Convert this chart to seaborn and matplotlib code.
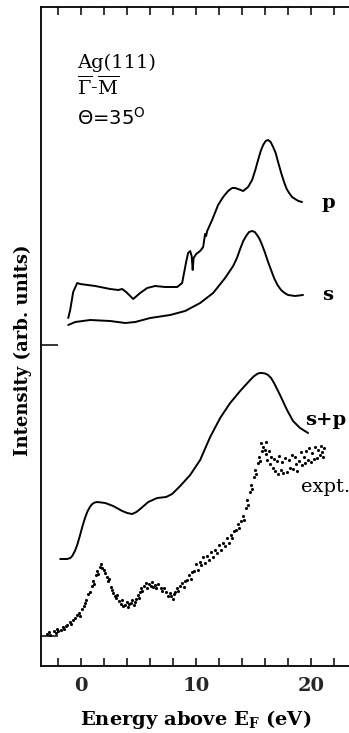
import numpy as np
import pandas as pd
import matplotlib
matplotlib.use("Agg")
import matplotlib.pyplot as plt
from matplotlib.ticker import FixedLocator
import seaborn as sns

# ---------------- data (energy in eV, intensity in arb. units) ----------------
p_E = [-1.13, -0.96, -0.70, -0.35, -0.09, 1.22, 2.52, 3.22, 3.57, 3.91, 4.52, 5.13,
       5.74, 6.43, 7.30, 8.35, 8.78, 9.13, 9.30, 9.48, 9.61, 9.70, 9.78, 10.0, 10.35,
       10.61, 10.78, 10.87, 10.96, 11.39, 11.91, 12.35, 12.78, 13.13, 13.40, 13.65, 14.09,
       14.52, 14.87, 15.15, 15.39, 15.62, 15.83, 16.05, 16.26, 16.48, 16.70, 16.92, 17.13,
       17.40, 17.65, 17.88, 18.09, 18.35, 18.61, 18.90, 19.22]
p_I = [34.8, 35.6, 37.4, 38.3, 38.2, 38.0, 37.7, 37.6, 37.7, 37.4, 36.7, 37.3,
       37.8, 38.0, 37.9, 37.9, 38.3, 40.4, 41.3, 41.5, 41.0, 39.6, 40.8, 41.2, 41.5,
       41.9, 43.2, 43.0, 43.5, 44.6, 46.1, 46.9, 47.5, 47.8, 47.8, 47.7, 47.5,
       47.9, 48.6, 49.6, 50.6, 51.5, 52.1, 52.5, 52.6, 52.4, 51.9, 51.3, 50.4,
       49.3, 48.4, 47.7, 47.3, 46.9, 46.7, 46.5, 46.4]

s_E = [-1.13, -0.52, 0.78, 2.52, 3.83, 4.70, 6.0, 7.74, 9.04, 10.35, 11.48, 12.52,
       13.22, 13.55, 13.83, 14.10, 14.35, 14.60, 14.87, 15.10, 15.30, 15.52, 15.74,
       16.00, 16.26, 16.52, 16.78, 17.08, 17.39, 17.70, 18.0, 18.61, 19.30]
s_I = [34.1, 34.4, 34.6, 34.5, 34.3, 34.4, 34.8, 35.1, 35.5, 36.3, 37.3, 38.8,
       40.0, 40.8, 41.7, 42.5, 43.0, 43.4, 43.5, 43.4, 43.1, 42.7, 42.1,
       41.3, 40.4, 39.6, 38.8, 38.1, 37.6, 37.3, 37.1, 37.0, 37.1]

sp_E = [-1.83, -1.22, -0.95, -0.78, -0.55, -0.35, -0.12, 0.09, 0.30, 0.52, 0.75, 0.96,
        1.18, 1.39, 2.09, 2.78, 3.57, 4.0, 4.43, 4.80, 5.13, 5.83, 6.61, 7.39, 7.91,
        8.61, 9.48, 10.35, 11.22, 12.09, 12.96, 13.83, 14.70, 15.00, 15.30, 15.52, 15.74,
        16.00, 16.26, 16.52, 16.78, 17.30, 17.91, 18.43, 19.04, 19.74]
sp_I = [10.7, 10.7, 10.8, 11.0, 11.5, 12.1, 13.0, 13.9, 14.7, 15.4, 15.9, 16.2,
        16.35, 16.4, 16.3, 16.0, 15.5, 15.3, 15.2, 15.4, 15.7, 16.4, 16.8, 16.9, 17.2,
        18.0, 19.1, 20.6, 22.9, 24.8, 26.3, 27.5, 28.6, 28.95, 29.2, 29.3, 29.3,
        29.25, 29.1, 28.8, 28.3, 27.1, 25.6, 24.5, 23.8, 23.3]

expt_E = [-2.95, -2.8, -2.7, -2.4, -2.2, -2.1, -2.0, -1.8, -1.6, -1.5, -1.35,
          -1.2, -1.0, -0.85, -0.7, -0.5, -0.35, -0.2, -0.1, 0.05, 0.2, 0.3,
          0.45, 0.6, 0.75, 0.9, 1.05, 1.15, 1.25, 1.4, 1.5, 1.6, 1.7, 1.8,
          1.95, 2.05, 2.2, 2.3, 2.4, 2.55, 2.65, 2.75, 2.9, 3.05, 3.15,
          3.3, 3.45, 3.55, 3.6, 3.8, 3.95, 4.05, 4.15, 4.3, 4.45, 4.55, 4.65,
          4.8, 4.9, 5.0, 5.1, 5.2, 5.3, 5.5, 5.6, 5.75, 5.9, 6.05, 6.15, 6.25,
          6.4, 6.55, 6.7, 6.9, 7.05, 7.2, 7.4, 7.55, 7.7, 7.85, 7.95, 8.05,
          8.2, 8.35, 8.45, 8.6, 8.8, 8.95, 9.05, 9.2, 9.4, 9.55, 9.65,
          9.85, 10.0, 10.15, 10.3, 10.45, 10.6, 10.8, 10.95, 11.1, 11.3, 11.5, 11.65,
          11.85, 12.0, 12.2, 12.35, 12.55, 12.7, 12.85, 13.0, 13.15, 13.3,
          13.45, 13.6, 13.75, 13.9, 14.05, 14.2, 14.3, 14.45, 14.55, 14.65, 14.8, 14.9,
          15.0, 15.15, 15.25, 15.35, 15.5, 15.6, 15.7, 15.8, 15.65, 15.95, 16.05, 16.1,
          16.2, 16.3, 16.4, 16.5, 16.65, 16.75, 16.9, 17.05, 17.15, 17.2,
          17.35, 17.5, 17.6, 17.75, 17.9, 18.05, 18.15, 18.3, 18.45, 18.6, 18.7, 18.8,
          18.95, 19.1, 19.2, 19.35, 19.5, 19.6, 19.75, 19.85, 20.0, 20.1, 20.25, 20.35,
          20.5, 20.6, 20.75, 20.85, 20.95, 21.05, 21.1]
expt_I = [3.2, 3.4, 3.1, 3.5, 3.3, 3.7, 3.5, 3.6, 3.9, 3.7, 4.0,
          4.1, 4.4, 4.2, 4.6, 4.8, 5.1, 5.3, 5.0, 5.7, 6.0, 6.3,
          6.6, 7.2, 7.4, 8.0, 8.5, 8.2, 9.1, 9.5, 9.2, 9.9, 10.2, 9.8,
          9.6, 9.3, 8.9, 8.5, 8.7, 7.9, 7.6, 7.3, 7.0, 6.8, 7.1,
          6.5, 6.2, 6.6, 6.0, 6.1, 6.4, 5.9, 6.2, 6.3, 6.6, 6.1, 6.4,
          6.7, 7.1, 6.8, 7.4, 7.8, 7.5, 8.0, 8.3, 7.8, 8.2, 8.0, 8.4, 7.9,
          8.1, 7.8, 8.2, 7.8, 7.5, 7.8, 7.4, 7.0, 7.3, 7.0, 6.7, 7.2,
          7.4, 7.8, 7.5, 8.0, 8.3, 7.9, 8.5, 8.6, 9.1, 8.7, 9.4,
          9.5, 10.2, 9.6, 10.4, 10.1, 10.9, 10.3, 11.0, 10.6, 11.4, 10.9, 11.6,
          11.3, 12.1, 11.6, 12.3, 12.0, 12.8, 12.3, 13.1, 12.8, 13.5,
          13.6, 14.2, 13.8, 14.5, 15.0, 14.6, 15.8, 16.6, 16.1, 17.4, 18.1, 17.7,
          18.9, 19.6, 19.2, 20.3, 20.9, 20.5, 21.5, 21.9, 22.3, 21.6, 22.4, 21.2,
          20.6, 21.5, 20.2, 20.9, 19.8, 20.7, 19.5, 20.5, 19.2, 21.0,
          19.6, 20.4, 19.3, 20.8, 19.4, 20.6, 19.8, 21.1, 19.7, 20.9, 20.2, 19.5,
          20.5, 21.4, 20.1, 20.9, 20.3, 21.5, 20.6, 21.8, 20.4, 21.3, 20.7, 21.9,
          20.8, 21.6, 21.1, 22.0, 21.4, 20.9, 21.8]

x_major = [0, 10, 20]
x_major_labels = ["0", "10", "20"]
x_minor = [-2, 2, 4, 6, 8, 12, 14, 16, 18, 22, 24]
baselines = [3.0, 32.1]

curve_labels = [("p", 20.87, 45.8), ("s", 20.96, 36.6), ("s+p", 19.48, 24.1), ("expt.", 19.13, 17.4)]

# ---------------- styling ----------------
sns.set_theme(style="white")
plt.rcParams["font.family"] = ["DejaVu Serif"]
plt.rcParams["mathtext.fontset"] = "dejavuserif"

fig = plt.figure(figsize=(3.49, 7.33), dpi=100, frameon=True)
fig.patch.set_facecolor("white")
fig.patch.set_edgecolor("white")
fig.patch.set_linewidth(0)
# axes run past the right edge of the figure (cropped, as in the reference)
ax = fig.add_axes([41 / 349, 67 / 733, 362 / 349, 659 / 733])

lw = 1.4
curves = pd.concat([
    pd.DataFrame({"E": p_E, "I": p_I, "c": "p"}),
    pd.DataFrame({"E": s_E, "I": s_I, "c": "s"}),
    pd.DataFrame({"E": sp_E, "I": sp_I, "c": "s+p"}),
])
sns.lineplot(data=curves, x="E", y="I", units="c", estimator=None, sort=False,
             color="black", lw=lw, ax=ax, legend=False)
sns.scatterplot(x=expt_E, y=expt_I, ax=ax, color="black", s=5, marker="o",
                linewidth=0, legend=False)

ax.set_xlim(-3.5, 28.0)
ax.set_ylim(0, 65.9)

ax.xaxis.set_major_locator(FixedLocator(x_major))
ax.set_xticklabels(x_major_labels, fontweight="bold")
ax.xaxis.set_minor_locator(FixedLocator(x_minor))
ax.set_yticks(baselines)
ax.set_yticklabels([])

ax.tick_params(axis="x", which="both", direction="in", length=5.5, width=1.1,
               top=True, bottom=True, color="black", pad=8, labelsize=14)
ax.tick_params(axis="y", which="both", direction="in", length=12, width=1.1,
               left=True, right=False, color="black")

for side in ["left", "bottom", "top"]:
    ax.spines[side].set_visible(True)
    ax.spines[side].set_color("black")
    ax.spines[side].set_linewidth(1.3)
ax.spines["right"].set_visible(False)

ax.set_xlabel("Energy above E$_\\mathbf{F}$ (eV)", fontsize=14, color="black",
              fontweight="bold")
ax.set_ylabel("Intensity (arb. units)", fontsize=13, color="black", fontweight="bold")
# label positions given in figure pixels
ax.xaxis.set_label_coords(195.5 / 349, (733 - 708) / 733, transform=fig.transFigure)
ax.yaxis.set_label_coords(32 / 349, (733 - 350) / 733, transform=fig.transFigure)

for txt, x, y in curve_labels:
    ax.text(x, y, txt, fontsize=14, ha="left", va="baseline", color="black",
            fontweight="bold" if txt in ("p", "s", "s+p") else "normal")

ax.text(-0.35, 59.8, "Ag(111)", fontsize=14, ha="left", va="baseline", color="black")
ax.text(-0.35, 57.1, "$\\overline{\\Gamma}$-$\\overline{\\mathrm{M}}$", fontsize=14,
        ha="left", va="baseline", color="black")
ax.text(-0.35, 54.1, "Θ=35$^\\mathrm{O}$", fontsize=14, ha="left", va="baseline",
        color="black", family=["DejaVu Sans"], math_fontfamily="dejavusans")

fig.savefig("out.png", dpi=100)
